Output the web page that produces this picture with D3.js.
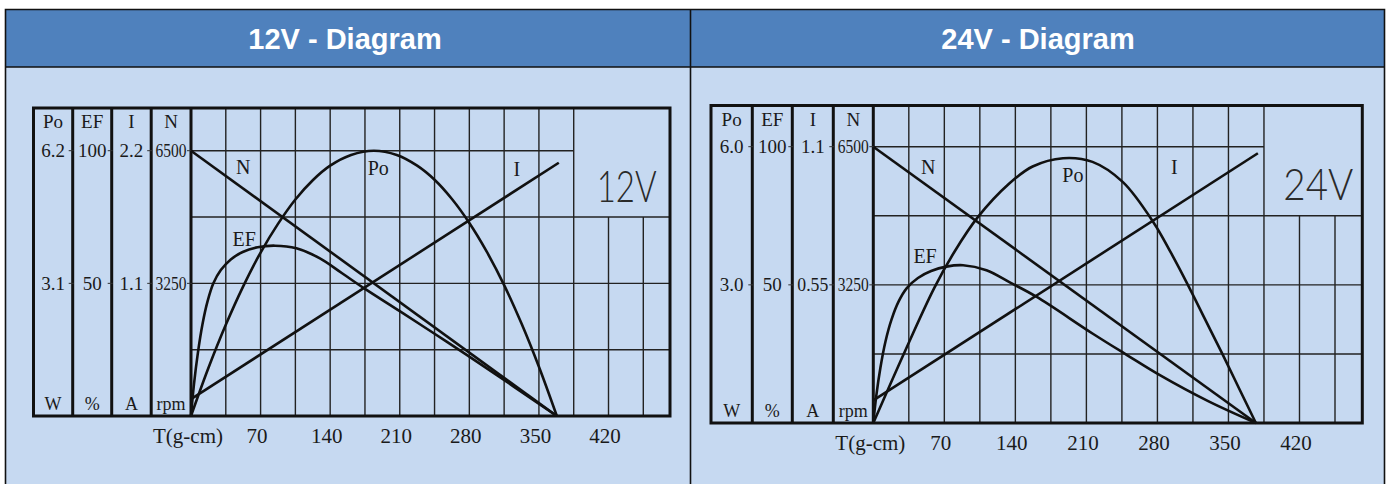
<!DOCTYPE html>
<html>
<head>
<meta charset="utf-8">
<title>12V / 24V Diagram</title>
<style>
  body { margin: 0; background: #fff; }
  svg text { font-family: "Liberation Serif", "DejaVu Serif", serif; fill: #1a1a1a; }
  .title { font-family: "Liberation Sans", Arial, sans-serif; font-weight: bold; fill: #fff; }
  .volt { font-family: Lato, "DejaVu Sans", sans-serif; font-weight: 300; fill: #2a2a2a; }
</style>
</head>
<body>
<script src="https://cdn.jsdelivr.net/npm/d3@7/dist/d3.min.js"></script>
<script>
// panel headers
const titles = ["12V - Diagram", "24V - Diagram"];
const voltLabels = ["12V", "24V"];

// left hand scale columns
const columns = ["Po", "EF", "I", "N"];
const units = ["W", "%", "A", "rpm"];
const max12 = [6.2, 100, 2.2, 6500];
const max24 = [6.0, 100, 1.1, 6500];
const top12 = ["6.2", "100", "2.2", "6500"];
const mid12 = ["3.1", "50", "1.1", "3250"];
const top24 = ["6.0", "100", "1.1", "6500"];
const mid24 = ["3.0", "50", "0.55", "3250"];

// torque axis
const torqueTicks = [70, 140, 210, 280, 350, 420];
const torqueGrid = [35, 70, 105, 140, 175, 210, 245, 280, 315, 350, 385, 420, 455];

// curves: [torque g-cm, value]
const speed12 = [[0, 6500], [368, 0]];
const current12 = [[0, 0.14], [370, 2.10]];
const power12 = [[0, 0], [17.5, 1.12], [35, 2.13], [52.5, 3.03], [70, 3.82], [87.5, 4.49], [105, 5.06],
  [122.5, 5.51], [140, 5.85], [161, 6.10], [184, 6.2], [207, 6.10], [227.5, 5.85], [245, 5.52],
  [262.5, 5.07], [280, 4.51], [297.5, 3.84], [315, 3.06], [332.5, 2.16], [350, 1.15], [368, 0]];
const eff12 = [[0, 0], [3, 12], [7, 24], [11.5, 34.5], [16.5, 43], [22.5, 50], [30, 55], [40, 59],
  [52, 61.8], [67, 63.6], [84.5, 64.2], [106, 63.2], [129.7, 59.4], [152, 53.8], [174.3, 48.1],
  [210, 39.5], [245, 31], [280, 22.4], [325, 11], [368, 0]];

const speed24 = [[0, 6500], [377, 0]];
const current24 = [[0, 0.09], [379, 1.074]];
const power24 = [[0, 0], [30, 1.50], [60, 2.93], [80, 3.72], [103, 4.47], [134, 5.20], [157, 5.57],
  [187, 5.75], [216, 5.67], [246, 5.23], [276, 4.36], [293, 3.71], [310, 3.00], [327, 2.25],
  [344, 1.50], [360.5, 0.75], [377, 0]];
const eff24 = [[0, 0], [3, 10], [7, 20], [12, 29.5], [18, 37.5], [25, 44], [33, 48.8], [44, 52.5],
  [57, 55], [72, 56.6], [88.5, 57.1], [111.5, 55.3], [135, 50.8], [160.7, 45.7], [216, 32.4],
  [250, 24.6], [282, 17.4], [330, 7.9], [377, 0]];

// curve labels: [text, torque, fraction of full scale]
const labels12 = [["N", 52.6, 0.912], ["Po", 188.4, 0.908], ["I", 327.9, 0.905], ["EF", 53.5, 0.642]];
const labels24 = [["N", 54.2, 0.901], ["Po", 196.7, 0.873], ["I", 296.7, 0.901], ["EF", 51, 0.578]];

const svg = d3.select("body").append("svg")
    .attr("width", 1390)
    .attr("height", 484);

// table cells
svg.append("rect").attr("x", 5).attr("y", 67).attr("width", 1380).attr("height", 420).attr("fill", "#c6d9f1");
svg.append("rect").attr("x", 5).attr("y", 10).attr("width", 1380).attr("height", 57).attr("fill", "#4f81bd");
svg.append("path")
    .attr("d", "M5.5,484V9.5H1384.5V484M690.5,9.5V484M5,67H1385")
    .attr("fill", "none").attr("stroke", "#111").attr("stroke-width", 1.6);

titles.forEach(function(t, i) {
  svg.append("text").attr("class", "title")
    .attr("x", i == 0 ? 345 : 1038).attr("y", 49)
    .attr("text-anchor", "middle").attr("font-size", 29)
    .text(t);
});

function drawChart(c) {
  const g = svg.append("g");
  const x = d3.scaleLinear().domain([0, 455]).range([c.plotLeft, c.x455]);
  const y = d3.scaleLinear().domain([0, 1]).range([c.bottom, c.y1]);

  // grid
  torqueGrid.forEach(function(t) {
    g.append("line")
      .attr("x1", x(t)).attr("x2", x(t))
      .attr("y1", t <= 385 ? c.top : y(0.75)).attr("y2", c.bottom)
      .attr("stroke", "#222").attr("stroke-width", 1.4);
  });
  [0.25, 0.5, 0.75, 1].forEach(function(f) {
    g.append("line")
      .attr("x1", c.plotLeft).attr("x2", f == 1 ? x(385) : c.right)
      .attr("y1", y(f)).attr("y2", y(f))
      .attr("stroke", "#222").attr("stroke-width", 1.4);
  });

  // frame and column separators
  g.append("rect")
    .attr("x", c.left).attr("y", c.top)
    .attr("width", c.right - c.left).attr("height", c.bottom - c.top)
    .attr("fill", "none").attr("stroke", "#111").attr("stroke-width", 3);
  c.cols.concat([c.plotLeft]).forEach(function(cx) {
    g.append("line").attr("x1", cx).attr("x2", cx).attr("y1", c.top).attr("y2", c.bottom)
      .attr("stroke", "#111").attr("stroke-width", 3);
    [0.5, 1].forEach(function(f) {
      g.append("line").attr("x1", cx - 4).attr("x2", cx + 1).attr("y1", y(f)).attr("y2", y(f))
        .attr("stroke", "#333").attr("stroke-width", 1);
    });
  });

  // column texts
  const edges = [c.left].concat(c.cols, [c.plotLeft]);
  columns.forEach(function(name, i) {
    const cx = (edges[i] + edges[i + 1]) / 2;
    const sc = d3.scaleLinear().domain([0, c.max[i]]).range([c.bottom, c.y1]);
    g.append("text").attr("x", cx).attr("y", c.top + 20).attr("text-anchor", "middle")
      .attr("font-size", 19).text(name);
    [[c.max[i], c.topText[i]], [c.max[i] / 2, c.midText[i]]].forEach(function(v) {
      const tx = g.append("text").attr("x", cx).attr("y", sc(v[0]) + 6.5).attr("text-anchor", "middle")
        .attr("font-size", 19).text(v[1]);
      if (v[1].length > 3) tx.attr("textLength", 31).attr("lengthAdjust", "spacingAndGlyphs");
    });
    g.append("text").attr("x", cx).attr("y", c.bottom - 6).attr("text-anchor", "middle")
      .attr("font-size", 18).text(units[i]);
  });

  // torque axis labels
  const ax = g.append("g")
    .attr("transform", "translate(0," + c.bottom + ")")
    .call(d3.axisBottom(x).tickValues(torqueTicks).tickSize(0).tickFormat(d3.format("d")));
  ax.attr("font-family", null).attr("font-size", 21);
  ax.select(".domain").remove();
  ax.selectAll("text").attr("y", 27).attr("dy", null).attr("dx", -4);
  g.append("text").attr("x", x(0) - 3).attr("y", c.bottom + 27).attr("text-anchor", "middle")
    .attr("font-size", 21).text("T(g-cm)");

  // curves
  const series = [[c.speed, 3], [c.current, 2], [c.power, 0], [c.eff, 1]];
  series.forEach(function(s) {
    const sc = d3.scaleLinear().domain([0, c.max[s[1]]]).range([c.bottom, c.y1]);
    const line = d3.line()
      .x(function(d) { return x(d[0]); })
      .y(function(d) { return sc(d[1]); })
      .curve(d3.curveCatmullRom.alpha(0.5));
    g.append("path").datum(s[0]).attr("d", line)
      .attr("fill", "none").attr("stroke", "#111").attr("stroke-width", 2.6)
      .attr("stroke-linejoin", "round");
  });

  c.labels.forEach(function(l) {
    g.append("text").attr("x", x(l[1])).attr("y", y(l[2])).attr("text-anchor", "middle")
      .attr("font-size", 20).text(l[0]);
  });

  g.append("text").attr("class", "volt")
    .attr("x", c.voltX).attr("y", c.voltY).attr("text-anchor", "middle")
    .attr("font-size", 44).attr("textLength", c.voltW).attr("lengthAdjust", "spacingAndGlyphs")
    .text(c.volt);
}

drawChart({
  left: 33.5, right: 670, top: 108, bottom: 416, y1: 150.7,
  cols: [72.7, 111.7, 151.2], plotLeft: 191, x455: 643.3,
  max: max12, topText: top12, midText: mid12,
  speed: speed12, current: current12, power: power12, eff: eff12,
  labels: labels12, volt: voltLabels[0], voltX: 626.7, voltY: 201.5, voltW: 60
});

drawChart({
  left: 711, right: 1362.3, top: 105.5, bottom: 423, y1: 146.7,
  cols: [752.3, 792.3, 833.3], plotLeft: 873.3, x455: 1335,
  max: max24, topText: top24, midText: mid24,
  speed: speed24, current: current24, power: power24, eff: eff24,
  labels: labels24, volt: voltLabels[1], voltX: 1318.3, voltY: 200, voltW: 70
});
</script>
</body>
</html>
